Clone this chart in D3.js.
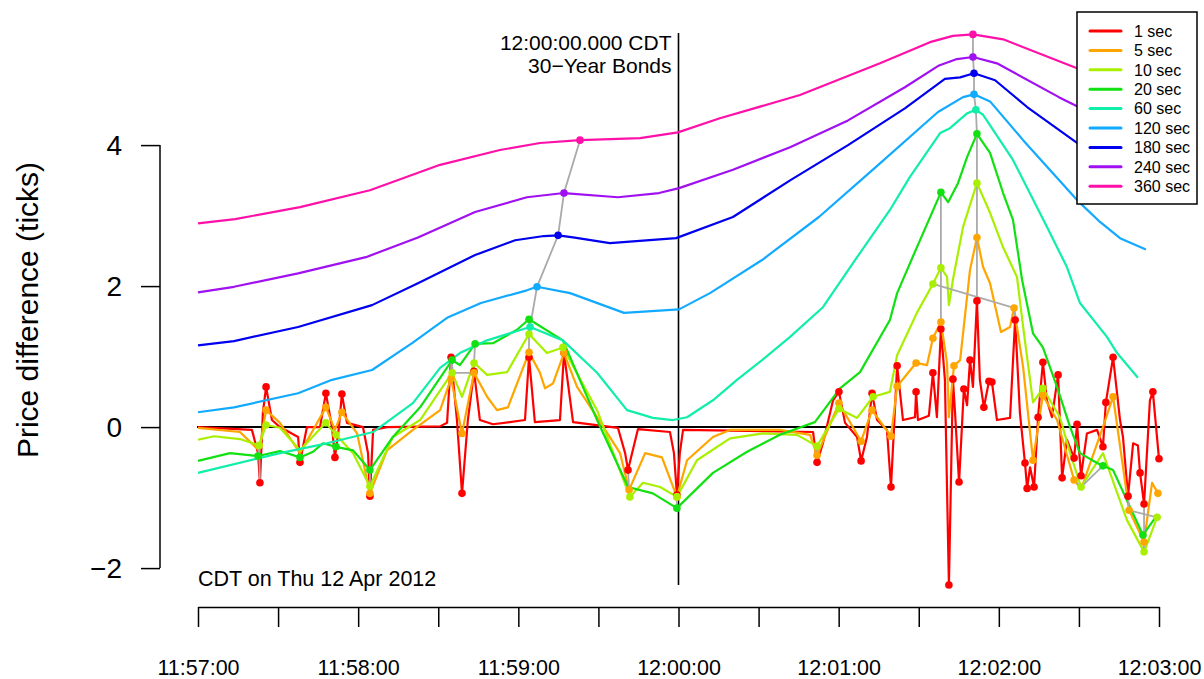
<!DOCTYPE html>
<html>
<head>
<meta charset="utf-8">
<script src="https://cdn.jsdelivr.net/npm/d3@7"></script>
<style>
  body { margin: 0; background: #fff; }
  svg { display: block; font-family: "Liberation Sans", Arial, sans-serif; }
</style>
</head>
<body>
<svg width="1204" height="679"></svg>
<script>
// seconds after 11:57:00 CDT, price difference in ticks
const seriesNames = ['1 sec', '5 sec', '10 sec', '20 sec', '60 sec', '120 sec', '180 sec', '240 sec', '360 sec'];
const seriesColors = ['#ff0000', '#ffa500', '#a8f000', '#11e011', '#11eeaa', '#11aaff', '#0000ee', '#a010f0', '#ff10a8'];

const line1 = [[0,0],[20.2,-0.04],[22.5,-0.37],[23.2,-0.79],[24.3,0.20],[25.5,0.57],[27.7,0.10],[30.7,0],[37.5,-0.14],[38.2,-0.50],
  [40.8,0],[45.7,0],[47.9,0.48],[50.2,0],[51.3,-0.43],[52.8,0],[53.9,0.47],[55.8,0.06],[61.8,0],[63.7,-0.37],[64.4,-0.98],
  [65.6,-0.04],[70.8,0],[90.7,0.01],[93.3,0.06],[94.8,0.99],[97.0,0.10],[98.9,-0.94],[101.1,0.10],[103.4,0.79],[105.6,0.10],
  [110.5,0.04],[122.5,0.10],[124.0,0.99],[126.2,0.07],[135.6,0.10],[137.1,1.05],[140.5,0.07],[157.3,-0.01],[160.0,-0.37],
  [161.1,-0.61],[162.6,-0.37],[164.8,-0.03],[176.8,-0.07],[178.3,-0.37],[179.4,-0.96],[180.5,-0.37],[181.7,-0.04],
  [230.4,-0.07],[231.9,-0.50],[234.1,-0.23],[237.9,0.38],[240.1,0.50],[242.4,0.06],[246.9,-0.14],[248.4,-0.48],[250.6,-0.14],
  [252.5,0.48],[254.4,0.10],[258.1,-0.04],[259.6,-0.85],[261.9,0.87],[264.1,0.10],[268.6,0.14],[269.0,0.50],[269.7,0.10],
  [273.8,0.16],[275.3,0.77],[276.8,0.14],[278.3,1.39],[279.8,0.67],[281.3,-2.24],[282.8,0.68],[283.6,0.20],[285.1,-0.78],
  [286.9,0.54],[288.1,0.31],[289.2,0.95],[290.3,0.57],[291.8,1.79],[292.9,0.67],[294.4,0.28],[296.3,0.65],[297.4,0.64],
  [299.3,0.10],[304.2,0.13],[306.1,1.52],[307.9,0.20],[309.8,-0.51],[310.6,-0.87],[311.7,-0.57],[313.2,-0.85],[314.7,0.14],
  [316.5,0.92],[318.0,0.38],[319.9,0.14],[322.2,0.74],[323.7,-0.72],[325.5,-0.18],[328.2,-0.44],[329.3,0.04],[330.8,-0.69],
  [333.0,-0.09],[336.8,-0.04],[339.0,-0.28],[340.1,0.35],[342.8,0.99],[345.4,0.10],[346.5,-0.14],[348.4,-0.98],[350.3,-0.23],
  [352.1,-0.26],[352.9,-0.65],[354.4,-1.09],[356.6,0.38],[357.7,0.50],[360,-0.45]];

const line5 = [[0,-0.01],[15.7,-0.07],[22.9,-0.33],[25.5,0.24],[30.7,0.06],[38.2,-0.37],[47.9,0.28],[51.3,-0.04],[53.9,0.21],
  [59.6,-0.09],[64.4,-0.94],[70.8,-0.33],[80.5,-0.04],[90.7,0.24],[94.8,0.69],[98.9,-0.09],[103.4,0.77],[108.3,0.43],
  [112.0,0.24],[116.1,0.28],[124.0,1.06],[128.1,0.77],[130.0,0.55],[133.0,0.62],[137.1,1.05],[142.0,0.57],[149.5,0.14],
  [158.1,-0.37],[161.5,-0.89],[167.5,-0.37],[173.8,-0.43],[179.4,-0.99],[183.2,-0.47],[192.9,-0.14],[199.3,-0.04],
  [218.0,-0.04],[229.3,-0.11],[231.9,-0.40],[240.1,0.34],[248.4,-0.20],[252.5,0.24],[259.6,-0.13],[261.9,0.58],[269.0,0.91],
  [273.1,0.88],[275.3,1.26],[278.3,1.49],[280.6,0.91],[281.3,0.14],[283.2,0.87],[285.5,0.95],[289.2,2.23],[291.8,2.69],
  [294.1,2.27],[296.7,2.04],[300.8,1.35],[304.2,1.42],[305.7,1.69],[309.1,0.85],[312.8,-0.47],[316.5,0.45],[321.8,0.10],
  [328.2,-0.75],[330.8,-0.88],[339.0,0],[342.8,0.43],[348.8,-1.18],[354.4,-1.63],[357.4,-0.79],[359.6,-0.94]];

const line10 = [[0,-0.18],[6.0,-0.13],[15.7,-0.17],[22.9,-0.26],[25.5,0.03],[30.7,-0.01],[38.2,-0.33],[47.9,0.06],[51.7,-0.11],
  [58.1,-0.37],[64.4,-0.84],[73.0,-0.14],[83.2,0.10],[95.2,0.77],[98.9,0.43],[103.4,0.91],[108.3,0.74],[115.8,0.78],
  [124.0,1.32],[130.7,1.05],[136.7,1.13],[149.5,0.24],[161.8,-0.99],[166.7,-0.79],[173.1,-0.85],[179.4,-0.99],[186.9,-0.47],
  [199.3,-0.16],[211.7,-0.09],[224.4,-0.11],[231.9,-0.27],[240.1,0.26],[246.9,0.13],[252.9,0.43],[259.2,0.50],[261.9,1.02],
  [269.3,1.62],[275.3,2.03],[278.3,2.26],[280.6,2.13],[281.3,1.73],[282.8,2.09],[286.6,2.84],[291.8,3.46],[296.7,3.04],
  [301.6,2.55],[306.8,2.13],[309.1,1.42],[312.8,0.35],[316.5,0.55],[322.9,0.14],[326.7,-0.37],[330.8,-0.85],[339.0,-0.37],
  [348.0,-1.32],[354.4,-1.77],[359.3,-1.28]];

const line20 = [[0,-0.48],[12.0,-0.37],[22.5,-0.41],[30.7,-0.34],[38.2,-0.43],[43.1,-0.35],[46.8,-0.23],[51.7,-0.28],
  [58.1,-0.33],[64.4,-0.61],[73.0,-0.14],[83.2,0.28],[95.2,0.95],[98.1,0.88],[103.8,1.18],[110.5,1.19],[119.5,1.38],
  [124.0,1.53],[136.7,1.23],[149.5,0.10],[161.1,-0.85],[170.4,-0.94],[179.4,-1.15],[192.9,-0.65],[205.7,-0.35],[218.0,-0.11],
  [231.1,0.07],[240.5,0.55],[248.0,0.78],[259.2,1.52],[261.9,1.90],[269.3,2.55],[278.3,3.33],[281.0,3.19],[284.7,3.46],
  [288.1,3.83],[291.8,4.16],[296.7,3.89],[301.6,3.32],[305.3,2.94],[308.7,2.09],[312.8,1.33],[316.5,1.13],[321.8,0.57],
  [326.7,0],[330.4,-0.37],[336.8,-0.51],[339.0,-0.55],[342.8,-0.61],[348.0,-1.04],[354.0,-1.53],[359.3,-1.25]];

const line60 = [[0,-0.65],[30.7,-0.37],[48.3,-0.23],[65.6,-0.07],[80.5,0.34],[90.7,0.84],[98.1,1.05],[108.3,1.23],[124.4,1.42],
  [136.7,1.23],[149.5,0.77],[160.7,0.24],[170.4,0.13],[177.9,0.10],[183.2,0.14],[192.9,0.38],[201.9,0.67],[211.3,0.95],
  [221.8,1.28],[234.1,1.70],[246.9,2.41],[259.2,3.08],[266.7,3.55],[278.0,4.17],[281.7,4.24],[288.1,4.45],[291.4,4.50],
  [294.1,4.43],[305.3,3.79],[318.0,2.84],[325.5,2.27],[330.4,1.76],[340.5,1.28],[344.3,1.05],[352.1,0.70]];

const line120 = [[0,0.21],[13.5,0.28],[37.5,0.48],[50.2,0.67],[65.2,0.81],[80.2,1.19],[93.3,1.55],[106.0,1.76],[123.2,1.94],
  [127.0,1.99],[139.4,1.90],[159.6,1.62],[180.2,1.67],[191.8,1.90],[211.3,2.37],[232.6,2.98],[254.0,3.69],[277.2,4.47],
  [286.6,4.68],[290.7,4.72],[296.7,4.62],[309.1,4.07],[329.3,3.22],[337.9,2.91],[345.4,2.68],[355.1,2.52]];

const line180 = [[0,1.16],[13.5,1.22],[37.5,1.42],[65.2,1.73],[82.4,2.04],[103.8,2.44],[118.8,2.65],[129.6,2.71],[134.9,2.72],
  [140.5,2.69],[154.3,2.61],[179.1,2.68],[200.4,2.98],[221.8,3.50],[243.5,4.00],[264.8,4.52],[279.8,4.94],[285.5,4.96],
  [290.7,5.02],[298.6,4.92],[310.6,4.54],[329.3,4.03],[360,3.22]];

const line240 = [[0,1.91],[13.5,1.99],[37.5,2.18],[62.9,2.41],[82.4,2.69],[103.8,3.05],[123.2,3.26],[137.1,3.32],[157.3,3.26],
  [172.7,3.32],[180.2,3.39],[200.4,3.65],[221.8,3.97],[243.5,4.35],[264.8,4.82],[277.6,5.13],[284.3,5.22],[290.3,5.25],
  [299.3,5.16],[322.5,4.68],[329.3,4.55],[360,3.93]];

const line360 = [[0,2.89],[13.9,2.95],[38.2,3.12],[64.4,3.36],[90.7,3.72],[113.1,3.93],[128.1,4.03],[143.1,4.07],[165.6,4.10],
  [179.8,4.18],[195.5,4.38],[225.5,4.71],[255.5,5.16],[274.2,5.46],[282.8,5.55],[290.3,5.57],[301.6,5.50],[329.3,5.09],[360,4.57]];

// marked extremes per series
const dots1 = [[23.2,-0.79],[25.5,0.57],[38.2,-0.50],[47.9,0.48],[51.3,-0.43],[53.9,0.47],[64.4,-0.98],[94.8,0.99],[98.9,-0.94],
  [103.4,0.79],[124.0,0.99],[137.1,1.05],[161.1,-0.61],[179.4,-0.96],[231.9,-0.50],[240.1,0.50],[248.4,-0.48],[252.5,0.48],
  [259.6,-0.85],[261.9,0.87],[269.0,0.50],[275.3,0.77],[278.3,1.39],[281.3,-2.24],[282.8,0.68],[285.1,-0.78],[286.9,0.54],
  [289.2,0.95],[291.8,1.79],[294.4,0.28],[296.3,0.65],[297.4,0.64],[306.1,1.52],[309.8,-0.51],[310.6,-0.87],[313.2,-0.85],
  [314.7,0.14],[316.5,0.92],[322.2,0.74],[323.7,-0.72],[328.2,-0.44],[329.3,0.04],[330.8,-0.69],[339.0,-0.28],[340.1,0.35],
  [342.8,0.99],[348.4,-0.98],[352.9,-0.65],[354.4,-1.09],[357.7,0.50],[360,-0.45]];
const dots5 = [[25.5,0.24],[47.9,0.28],[53.9,0.21],[64.4,-0.94],[94.8,0.69],[98.9,-0.09],[103.4,0.77],[124.0,1.06],[137.1,1.05],
  [161.5,-0.89],[179.4,-0.99],[231.9,-0.40],[240.1,0.34],[248.4,-0.20],[252.5,0.24],[259.6,-0.13],[261.9,0.58],[269.0,0.91],
  [275.3,1.26],[278.3,1.49],[283.2,0.87],[291.8,2.69],[305.7,1.69],[312.8,-0.47],[316.5,0.45],[328.2,-0.75],[342.8,0.43],
  [348.8,-1.18],[354.4,-1.63],[359.6,-0.94]];
const dots10 = [[22.9,-0.26],[25.5,0.03],[47.9,0.06],[51.7,-0.11],[64.4,-0.84],[95.2,0.77],[103.4,0.91],[124.0,1.32],[136.7,1.13],
  [161.8,-0.99],[179.4,-0.99],[231.9,-0.27],[240.1,0.26],[252.9,0.43],[275.3,2.03],[278.3,2.26],[291.8,3.46],[316.5,0.55],
  [330.8,-0.85],[354.4,-1.77],[359.3,-1.28]];
const dots20 = [[22.5,-0.41],[38.2,-0.43],[51.7,-0.28],[64.4,-0.61],[95.2,0.95],[103.8,1.18],[124.0,1.53],[179.4,-1.15],
  [278.3,3.33],[291.8,4.16],[339.0,-0.55],[354.0,-1.53]];
const dots60 = [[124.4,1.42],[291.4,4.50]];
const dots120 = [[127.0,1.99],[290.7,4.72]];
const dots180 = [[134.9,2.72],[290.7,5.02]];
const dots240 = [[137.1,3.32],[290.3,5.25]];
const dots360 = [[143.1,4.07],[290.3,5.57]];

// grey links between matching extremes
const links = [
  [[124.0,0.99],[124.0,1.06],[124.0,1.32],[124.0,1.53],[124.4,1.42],[127.0,1.99],[134.9,2.72],[137.1,3.32],[143.1,4.07]],
  [[291.8,1.79],[291.8,2.69],[291.8,3.46],[291.8,4.16],[291.4,4.50],[290.7,4.72],[290.7,5.02],[290.3,5.25],[290.3,5.57]],
  [[278.3,1.39],[278.3,1.49],[278.3,2.26],[278.3,3.33]],
  [[306.1,1.52],[305.7,1.69],[275.3,2.03]],
  [[94.8,0.99],[94.8,0.69],[95.2,0.77],[95.2,0.95]],
  [[95.2,0.77],[103.4,0.77],[103.4,0.91],[103.8,1.18]],
  [[161.1,-0.61],[161.5,-0.89],[161.8,-0.99]],
  [[179.4,-0.96],[179.4,-0.99],[179.4,-1.15]],
  [[231.9,-0.50],[231.9,-0.40],[231.9,-0.27]],
  [[330.8,-0.69],[328.2,-0.75],[330.8,-0.85],[339.0,-0.55]],
  [[354.4,-1.09],[354.4,-1.63],[354.4,-1.77],[354.0,-1.53]],
  [[348.4,-0.98],[348.8,-1.18],[359.3,-1.28]],
  [[64.4,-0.98],[64.4,-0.94],[64.4,-0.84],[64.4,-0.61]],
  [[23.2,-0.79],[22.9,-0.26],[22.5,-0.41]]
];

const yTicks = [-2, 0, 2, 4];
const eventSec = 180;
const dateLabel = 'CDT on Thu 12 Apr 2012';
const eventLabels = ['12:00:00.000 CDT', '30\u2212Year Bonds'];

const lines = [line1, line5, line10, line20, line60, line120, line180, line240, line360];
const dots = [dots1, dots5, dots10, dots20, dots60, dots120, dots180, dots240, dots360];

const start = new Date(2012, 3, 12, 11, 57, 0);
const toDate = s => new Date(start.getTime() + s * 1000);

const svg = d3.select('svg');

const xScale = d3.scaleTime()
  .domain([toDate(0), toDate(360)])
  .range([198, 1159]);
const yScale = d3.scaleLinear()
  .domain([-2.24, 5.59])
  .range([585, 33]);

const line = d3.line()
  .x(d => xScale(toDate(d[0])))
  .y(d => yScale(d[1]));

// zero line and event line
svg.append('line')
  .attr('x1', xScale.range()[0] - 1).attr('x2', xScale.range()[1] + 1)
  .attr('y1', yScale(0)).attr('y2', yScale(0))
  .attr('stroke', '#000').attr('stroke-width', 2);

svg.append('line')
  .attr('x1', xScale(toDate(eventSec))).attr('x2', xScale(toDate(eventSec)))
  .attr('y1', yScale.range()[1]).attr('y2', yScale.range()[0])
  .attr('stroke', '#000').attr('stroke-width', 1.6);

lines.forEach((data, i) => {
  svg.append('path')
    .datum(data)
    .attr('d', line)
    .attr('fill', 'none')
    .attr('stroke', seriesColors[i])
    .attr('stroke-width', 2.2)
    .attr('stroke-linejoin', 'round');
});

svg.selectAll('.link')
  .data(links)
  .enter()
  .append('path')
  .attr('class', 'link')
  .attr('d', line)
  .attr('fill', 'none')
  .attr('stroke', '#aaaaaa')
  .attr('stroke-width', 1.8);

dots.forEach((data, i) => {
  svg.append('g')
    .selectAll('circle')
    .data(data)
    .enter()
    .append('circle')
    .attr('cx', d => xScale(toDate(d[0])))
    .attr('cy', d => yScale(d[1]))
    .attr('r', 3.8)
    .attr('fill', seriesColors[i]);
});

// axes
const fmt = d3.timeFormat('%H:%M:%S');
const xAxis = d3.axisBottom(xScale)
  .tickValues(d3.range(0, 361, 30).map(toDate))
  .tickSize(20)
  .tickSizeOuter(0)
  .tickPadding(33)
  .tickFormat(d => d.getSeconds() === 0 ? fmt(d) : '');

const gx = svg.append('g')
  .attr('transform', 'translate(0, 607)')
  .call(xAxis);
gx.selectAll('text').attr('font-size', 21.5).attr('fill', '#000').attr('font-family', 'Liberation Sans, Arial, sans-serif');
gx.selectAll('line, path').attr('stroke', '#000').attr('stroke-width', 1.5);

const yAxis = d3.axisLeft(yScale)
  .tickValues(yTicks)
  .tickSize(19)
  .tickPadding(19)
  .tickFormat(d => d < 0 ? '\u2212' + Math.abs(d) : d);

const gy = svg.append('g')
  .attr('transform', 'translate(160, 0)')
  .call(yAxis);
gy.select('.domain').remove();
gy.append('line')
  .attr('y1', yScale(d3.min(yTicks))).attr('y2', yScale(d3.max(yTicks)))
  .attr('stroke', '#000').attr('stroke-width', 1.5);
gy.selectAll('text').attr('font-size', 28).attr('fill', '#000').attr('font-family', 'Liberation Sans, Arial, sans-serif');
gy.selectAll('.tick line').attr('stroke', '#000').attr('stroke-width', 1.5);

svg.append('text')
  .attr('transform', 'translate(38, 310) rotate(-90)')
  .attr('text-anchor', 'middle')
  .attr('font-size', 30)
  .text('Price difference (ticks)');

svg.append('text')
  .attr('x', 198).attr('y', 586)
  .attr('font-size', 21.5)
  .text(dateLabel);

svg.selectAll('.evt')
  .data(eventLabels)
  .enter()
  .append('text')
  .attr('class', 'evt')
  .attr('x', xScale(toDate(eventSec)) - 7)
  .attr('y', (d, i) => 50 + i * 23)
  .attr('text-anchor', 'end')
  .attr('font-size', 21)
  .text(d => d);

// legend
const legend = svg.append('g').attr('transform', 'translate(1077, 12)');
legend.append('rect')
  .attr('width', 120).attr('height', 192)
  .attr('fill', '#fff').attr('stroke', '#000').attr('stroke-width', 1.5);
const rows = legend.selectAll('.row')
  .data(seriesNames)
  .enter()
  .append('g')
  .attr('class', 'row')
  .attr('transform', (d, i) => `translate(0, ${19 + i * 19.4})`);
rows.append('line')
  .attr('x1', 13).attr('x2', 44)
  .attr('stroke', (d, i) => seriesColors[i])
  .attr('stroke-width', 3)
  .attr('stroke-linecap', 'round');
rows.append('text')
  .attr('x', 57).attr('dy', '0.36em')
  .attr('font-size', 16)
  .text(d => d);
</script>
</body>
</html>
